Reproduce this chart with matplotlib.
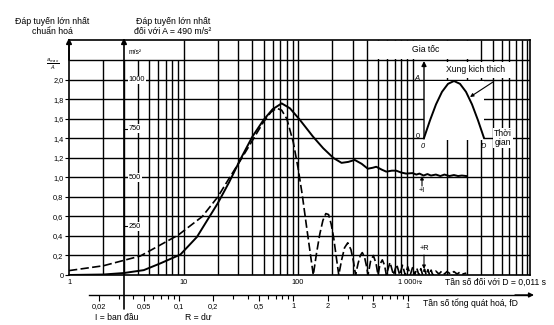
import matplotlib
matplotlib.use('Agg')
import matplotlib.pyplot as plt
from matplotlib.patches import Rectangle, FancyArrowPatch
from matplotlib.ticker import NullLocator, NullFormatter
from matplotlib.transforms import blended_transform_factory

plt.rcParams['font.family'] = ['Liberation Sans', 'DejaVu Sans']

# initial (primary) response, solid line  - Hz / a_max/A
init_hz = [1, 2, 3, 4.5, 6.3, 9.4, 13.1, 19.9, 25, 31.2, 40, 50, 60, 72, 85, 104, 135, 166, 204, 240,
           275, 313, 360, 407, 450, 482, 540, 590, 660, 720, 800, 880, 1000, 1080, 1150, 1250, 1350, 1450,
           1600, 1750, 1900, 2100, 2300, 2500, 2700, 2950]
init_val = [0.0, 0.005, 0.02, 0.05, 0.12, 0.21, 0.39, 0.735, 0.95, 1.18, 1.42, 1.59, 1.70, 1.76, 1.71, 1.59, 1.42, 1.30, 1.20, 1.15,
            1.16, 1.18, 1.14, 1.09, 1.10, 1.11, 1.08, 1.06, 1.07, 1.07, 1.05, 1.04, 1.045, 1.03, 1.04, 1.02, 1.035, 1.02,
            1.03, 1.015, 1.03, 1.015, 1.025, 1.015, 1.02, 1.015]

# residual response, dashed line
res_hz = [1, 2, 4.2, 9.0, 14.6, 19.9, 25, 31.2, 40, 50, 58, 65, 72, 80, 91, 100, 109, 118, 127, 136,
          145, 155, 165, 175, 185, 195, 205, 215, 227,
          240, 255, 272, 290, 305, 318,
          335, 350, 364, 380, 395, 409,
          430, 455, 480, 500,
          520, 545, 570, 591,
          636, 682, 727, 773, 818, 864, 909, 955, 1000, 1045,
          1090, 1136, 1182, 1227, 1273, 1318, 1364, 1409, 1455, 1500,
          1600, 1700, 1800, 1900, 2000, 2150, 2300, 2450, 2600, 2750, 2950]
res_val = [0.045, 0.095, 0.195, 0.41, 0.6, 0.8, 0.99, 1.17, 1.38, 1.57, 1.67, 1.71, 1.69, 1.60, 1.36, 1.10, 0.82, 0.52, 0.25, 0.0,
           0.22, 0.42, 0.56, 0.63, 0.62, 0.52, 0.38, 0.20, 0.0,
           0.15, 0.28, 0.33, 0.26, 0.14, 0.0,
           0.12, 0.20, 0.23, 0.19, 0.10, 0.0,
           0.14, 0.20, 0.12, 0.0,
           0.11, 0.155, 0.10, 0.0,
           0.13, 0.0, 0.11, 0.0, 0.10, 0.0, 0.085, 0.0, 0.075, 0.0,
           0.07, 0.0, 0.065, 0.0, 0.06, 0.0, 0.055, 0.0, 0.05, 0.0,
           0.04, 0.01, 0.04, 0.01, 0.035, 0.01, 0.035, 0.01, 0.03, 0.01, 0.02]

# half-sine pulse of the inset
pulse_t = [0, 0.1, 0.2, 0.3, 0.4, 0.5, 0.6, 0.7, 0.8, 0.9, 1.0]
pulse_a = [0, 0.31, 0.59, 0.81, 0.95, 1.0, 0.95, 0.81, 0.59, 0.31, 0]

y_ticks = [0, 0.2, 0.4, 0.6, 0.8, 1.0, 1.2, 1.4, 1.6, 1.8, 2.0]
y_labels = ['0', '0,2', '0,4', '0,6', '0,8', '1,0', '1,2', '1,4', '1,6', '1,8', '2,0']
x_ticks = [1, 10, 100, 1000]
x_labels = ['1', '10', '100', '']
ms2_ticks = [1000, 750, 500, 250]
fd_ticks = [0.02, 0.05, 0.1, 0.2, 0.5, 1, 2, 5, 10]
fd_labels = ['0,02', '0,05', '0,1', '0,2', '0,5', '1', '2', '5', '1']
fd_minor = [0.03, 0.04, 0.06, 0.07, 0.08, 0.09, 0.3, 0.4, 0.6, 0.7, 0.8, 0.9, 3, 4, 6, 7, 8, 9]
D = 0.011

W_PX, H_PX = 554, 325
def fx(x): return x / W_PX
def fy(y): return 1 - y / H_PX

fig = plt.figure(figsize=(5.54, 3.25), dpi=100)
ax = fig.add_axes([fx(69), fy(275), (530 - 69) / W_PX, (275 - 40) / H_PX])
ax.set_xscale('log')
XMAX = 10620
ax.set_xlim(1, XMAX)
ax.set_ylim(0, 2.41)

# grid
for d in [1, 10, 100, 1000]:
    for k in range(2, 10):
        top = 2.2 if d == 1 else 2.41
        ax.vlines(k * d, 0, top, color='k', lw=1.0, zorder=1)
ax.vlines([10, 100, 1000, 10000], 0, 2.41, color='k', lw=1.0, zorder=1)
ax.hlines([0.2 * i for i in range(1, 12)], 1, XMAX, color='k', lw=1.0, zorder=1)
for s in ax.spines.values():
    s.set_linewidth(1.2)

ax.set_yticks(y_ticks)
ax.set_yticklabels(y_labels)
ax.tick_params(axis='y', length=3, width=0.8, labelsize=5.3, pad=1)
ax.set_xticks(x_ticks)
ax.set_xticklabels(x_labels)
ax.xaxis.set_minor_locator(NullLocator())
ax.tick_params(axis='x', length=0, labelsize=5.3, pad=3)

ax.plot(init_hz, init_val, color='k', lw=1.4, zorder=3)
ax.plot(res_hz, res_val, color='k', lw=1.2, ls=(0, (5, 2)), zorder=3)

# m/s2 scale
bt = blended_transform_factory(fig.transFigure, ax.transData)
for v in ms2_ticks:
    ax.plot([fx(124), fx(128)], [v / 500, v / 500], transform=bt, color='k', lw=0.8, clip_on=False, zorder=4)
    ax.text(fx(128.5), v / 500, str(v), transform=bt, fontsize=5.3, ha='left', va='center', zorder=4,
            bbox=dict(facecolor='white', edgecolor='none', pad=0.6))
fig.text(fx(129), fy(52), 'm/s²', fontsize=4.8, ha='left', va='center')

# generalised frequency axis
ax2 = fig.add_axes([fx(69), fy(295), (530 - 69) / W_PX, 0.0001])
ax2.set_xscale('log')
ax2.set_xlim(1 * D, XMAX * D)
ax2.patch.set_visible(False)
for s in ['left', 'right', 'top']:
    ax2.spines[s].set_visible(False)
ax2.spines['bottom'].set_bounds(0.0163, 115)
ax2.spines['bottom'].set_linewidth(1.0)
ax2.set_yticks([])
ax2.set_xticks(fd_ticks)
ax2.set_xticklabels(fd_labels)
ax2.set_xticks(fd_minor, minor=True)
ax2.xaxis.set_minor_formatter(NullFormatter())
ax2.tick_params(axis='x', which='major', length=4, width=0.8, labelsize=5.3, pad=1.5)
ax2.tick_params(axis='x', which='minor', length=3, width=0.8)

# inset pulse
ax_in = fig.add_axes([fx(424), fy(140), 60 / W_PX, 59 / H_PX], zorder=1)
ax_in.set_facecolor('white')
ax_in.plot(pulse_t, pulse_a, color='k', lw=1.4, clip_on=False)
ax_in.set_xlim(0, 1)
ax_in.set_ylim(-2 / 57, 1)
ax_in.set_xticks([])
ax_in.set_yticks([])
for s in ax_in.spines.values():
    s.set_visible(False)

def arrow(x0, y0, x1, y1, ms=7, lw=1.0):
    fig.add_artist(FancyArrowPatch((fx(x0), fy(y0)), (fx(x1), fy(y1)), transform=fig.transFigure,
                                   arrowstyle='-|>', mutation_scale=ms, color='k', lw=lw,
                                   shrinkA=0, shrinkB=0, zorder=2))

def box(x0, y0, x1, y1):
    fig.add_artist(Rectangle((fx(x0), fy(y1)), (x1 - x0) / W_PX, (y1 - y0) / H_PX, transform=fig.transFigure,
                             facecolor='white', edgecolor='none', zorder=1.5))

box(370, 41.5, 470, 59)
box(427, 62, 513, 78.5)

arrow(69, 60, 69, 38, ms=8, lw=1.2)
arrow(124, 309, 124, 38, ms=8, lw=1.2)
arrow(424, 139, 424, 61, ms=7, lw=1.0)
arrow(515, 295, 534, 295, ms=7, lw=1.0)
arrow(422, 186, 422, 176, ms=5, lw=0.8)
arrow(424, 255, 424, 269, ms=5, lw=0.8)
arrow(493, 82, 470, 97, ms=5, lw=0.8)

fs = 6.2
fig.text(fx(52), fy(26.5), 'Đáp tuyến lớn nhất\nchuẩn hoá', ha='center', va='center', fontsize=6.3, linespacing=1.25)
fig.text(fx(173), fy(26.5), 'Đáp tuyến lớn nhất\nđối với A = 490 m/s²', ha='center', va='center', fontsize=6.3,
         linespacing=1.25)
fig.text(fx(53), fy(64), r'$\frac{a_{max}}{A}$', ha='center', va='center', fontsize=5.5)
fig.text(fx(426), fy(50), 'Gia tốc', ha='center', va='center', fontsize=fs)
fig.text(fx(476), fy(70), 'Xung kich thich', ha='center', va='center', fontsize=fs)
fig.text(fx(417), fy(79), 'A', ha='center', va='center', fontsize=5.5, style='italic')
fig.text(fx(418), fy(136), '0', ha='center', va='center', fontsize=5.3)
fig.text(fx(423), fy(147), '0', ha='center', va='center', fontsize=5.3, style='italic')
fig.text(fx(483), fy(146), 'D', ha='center', va='center', fontsize=5.3, style='italic')
fig.text(fx(503), fy(138), 'Thời\ngian', ha='center', va='center', fontsize=fs, linespacing=1.1,
         bbox=dict(facecolor='white', edgecolor='none', pad=0.8))
fig.text(fx(422), fy(191), '+I', ha='center', va='center', fontsize=5.3)
fig.text(fx(424), fy(249), '+R', ha='center', va='center', fontsize=5.3)
fig.text(fx(416), fy(283), '1 000', ha='right', va='center', fontsize=5.3)
fig.text(fx(417), fy(283), 'Hz', ha='left', va='center', fontsize=3.8)
fig.text(fx(445), fy(282), 'Tần số đối với D = 0,011 s', ha='left', va='center', fontsize=fs)
fig.text(fx(423), fy(303), 'Tần số tổng quát hoá, fD', ha='left', va='center', fontsize=fs)
fig.text(fx(95), fy(318), 'I = ban đầu', ha='left', va='center', fontsize=fs)
fig.text(fx(185), fy(318), 'R = dư', ha='left', va='center', fontsize=fs)

fig.savefig('out.png', dpi=100)
